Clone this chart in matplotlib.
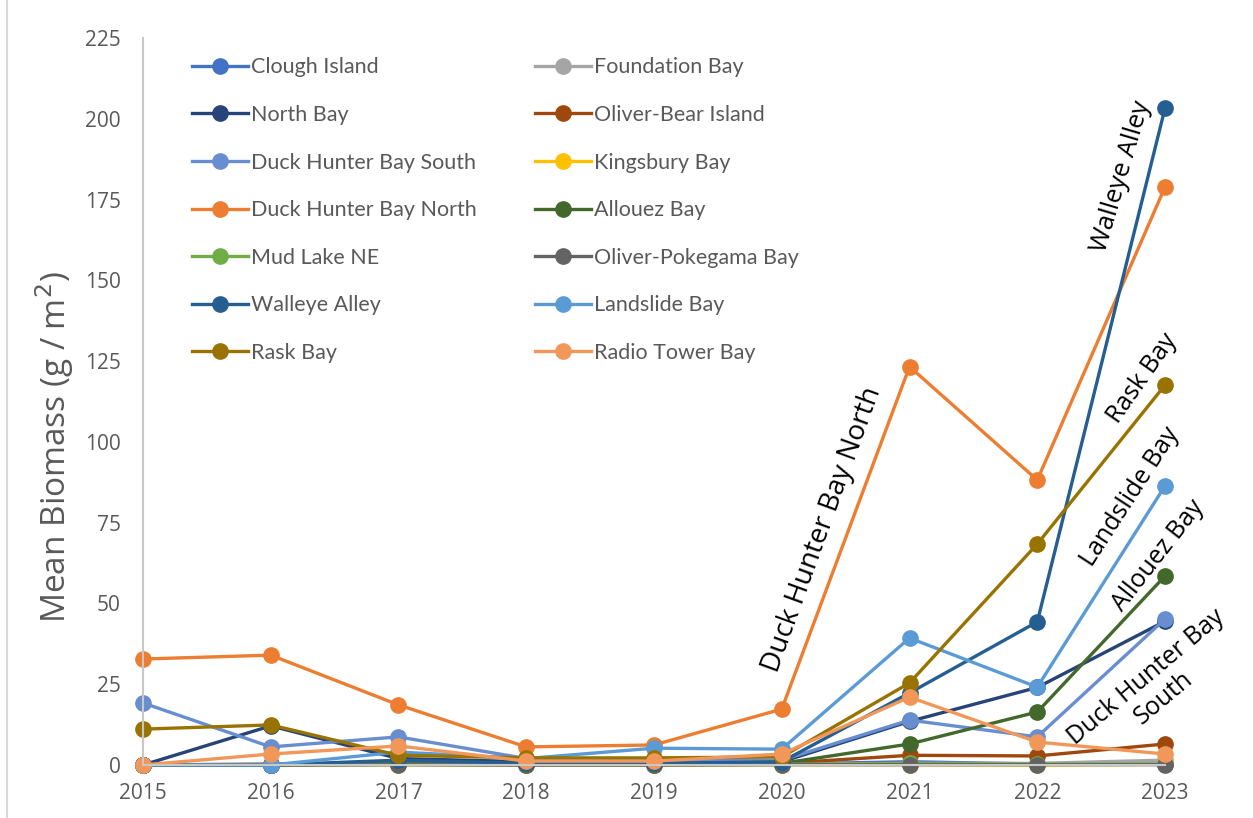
import matplotlib.pyplot as plt
from matplotlib.lines import Line2D

years = [2015, 2016, 2017, 2018, 2019, 2020, 2021, 2022, 2023]

# series in Excel order (row-major legend order)
sites = [
    "Clough Island", "Foundation Bay", "North Bay", "Oliver-Bear Island",
    "Duck Hunter Bay South", "Kingsbury Bay", "Duck Hunter Bay North", "Allouez Bay",
    "Mud Lake NE", "Oliver-Pokegama Bay", "Walleye Alley", "Landslide Bay",
    "Rask Bay", "Radio Tower Bay",
]
colors = [
    "#4472C4", "#A5A5A5", "#264478", "#9E480E",
    "#698ED0", "#FFC000", "#ED7D31", "#43682B",
    "#70AD47", "#636363", "#255E91", "#5B9BD5",
    "#997300", "#F1975A",
]

clough_island = [0.0, 0.1, 0.3, 0.2, 0.2, 0.3, 1.0, 0.3, 0.3]
foundation_bay = [0.0, 0.1, 0.2, 0.1, 0.1, 0.2, 0.5, 0.5, 1.5]
north_bay = [0.0, 12.1, 2.0, 1.0, 0.5, 1.0, 13.5, 24.0, 44.5]
oliver_bear = [0.0, 0.3, 0.5, 0.3, 0.3, 0.5, 3.0, 2.8, 6.5]
dhb_south = [19.2, 5.6, 8.7, 2.0, 1.5, 1.5, 13.9, 8.7, 45.2]
kingsbury_bay = [0.0, 0.0, 0.1, 0.0, 0.0, 0.1, 0.1, 0.0, 0.2]
dhb_north = [32.8, 34.0, 18.6, 5.6, 6.2, 17.3, 123.3, 88.2, 178.9]
allouez_bay = [0.0, 0.0, 0.5, 0.3, 0.3, 0.5, 6.5, 16.4, 58.5]
mud_lake_ne = [0.0, 0.0, 0.2, 0.1, 0.1, 0.2, 0.5, 0.3, 0.3]
oliver_pokegama = [0.0, 0.0, 0.1, 0.0, 0.0, 0.1, 0.1, 0.1, 0.1]
walleye_alley = [0.0, 0.0, 1.5, 0.5, 0.5, 1.0, 22.3, 44.3, 203.3]
landslide_bay = [0.0, 0.0, 4.0, 2.0, 5.2, 4.9, 39.3, 24.1, 86.4]
rask_bay = [11.1, 12.4, 3.0, 2.2, 2.2, 2.5, 25.4, 68.4, 117.6]
radio_tower_bay = [0.0, 3.4, 5.9, 1.2, 1.2, 3.4, 21.0, 7.1, 3.4]

values = [
    clough_island, foundation_bay, north_bay, oliver_bear,
    dhb_south, kingsbury_bay, dhb_north, allouez_bay,
    mud_lake_ne, oliver_pokegama, walleye_alley, landslide_bay,
    rask_bay, radio_tower_bay,
]

y_ticks = [0, 25, 50, 75, 100, 125, 150, 175, 200, 225]

plt.rcParams["font.family"] = ["Open Sans", "DejaVu Sans"]

fig = plt.figure(figsize=(12.53, 8.18), dpi=100)
ax = fig.add_axes([0.1141, 0.0648, 0.8157, 0.8887])

handles = []
for name, vals, col in zip(sites, values, colors):
    h, = ax.plot(years, vals, color=col, lw=2.4, marker="o", ms=11,
                 label=name, clip_on=False, solid_joinstyle="round")
    handles.append(h)

ax.set_xlim(2015, 2023)
ax.set_ylim(0, 225)
ax.set_xticks(years)
ax.set_yticks(y_ticks)
ax.tick_params(axis="both", length=0, labelsize=15, labelcolor="#595959")
ax.tick_params(axis="y", pad=16)
ax.tick_params(axis="x", pad=13)

for s in ["top", "right"]:
    ax.spines[s].set_visible(False)
for s in ["left", "bottom"]:
    ax.spines[s].set_color("#C8C8C8")
    ax.spines[s].set_linewidth(1.5)

ax.set_ylabel("Mean Biomass (g / m$^2$)", fontsize=24, color="#595959")
ax.yaxis.set_label_coords(-0.0656, 0.437)

# legend: Excel fills row by row, matplotlib column by column
order = list(range(0, 14, 2)) + list(range(1, 14, 2))
leg = ax.legend([handles[i] for i in order], [sites[i] for i in order],
                ncol=2, loc="upper left", bbox_to_anchor=(0.029, 1.0),
                frameon=False, prop={"family": ["Lato", "DejaVu Sans"], "size": 15.5},
                handlelength=2.6, handletextpad=0.12, labelspacing=1.28,
                columnspacing=2.75)
for t in leg.get_texts():
    t.set_color("#595959")

# rotated site labels
ax.text(2020.32, 73.0, "Duck Hunter Bay North", rotation=70, fontsize=20,
        ha="center", va="center")
ax.text(2022.66, 182, "Walleye Alley", rotation=73.5, fontsize=18.5,
        ha="center", va="center")
ax.text(2022.82, 119.5, "Rask Bay", rotation=55, fontsize=18,
        ha="center", va="center")
ax.text(2022.73, 83, "Landslide Bay", rotation=57, fontsize=18,
        ha="center", va="center")
ax.text(2022.95, 64.7, "Allouez Bay", rotation=52, fontsize=18,
        ha="center", va="center")
ax.text(2022.92, 24.0, "Duck Hunter Bay\nSouth", rotation=40, fontsize=18,
        ha="center", va="center", multialignment="center", linespacing=1.15)

# chart area border on the left edge
fig.add_artist(Line2D([0.0056, 0.0056], [0, 1], color="#D9D9D9", lw=1.5))

fig.savefig("out.png", dpi=100)
